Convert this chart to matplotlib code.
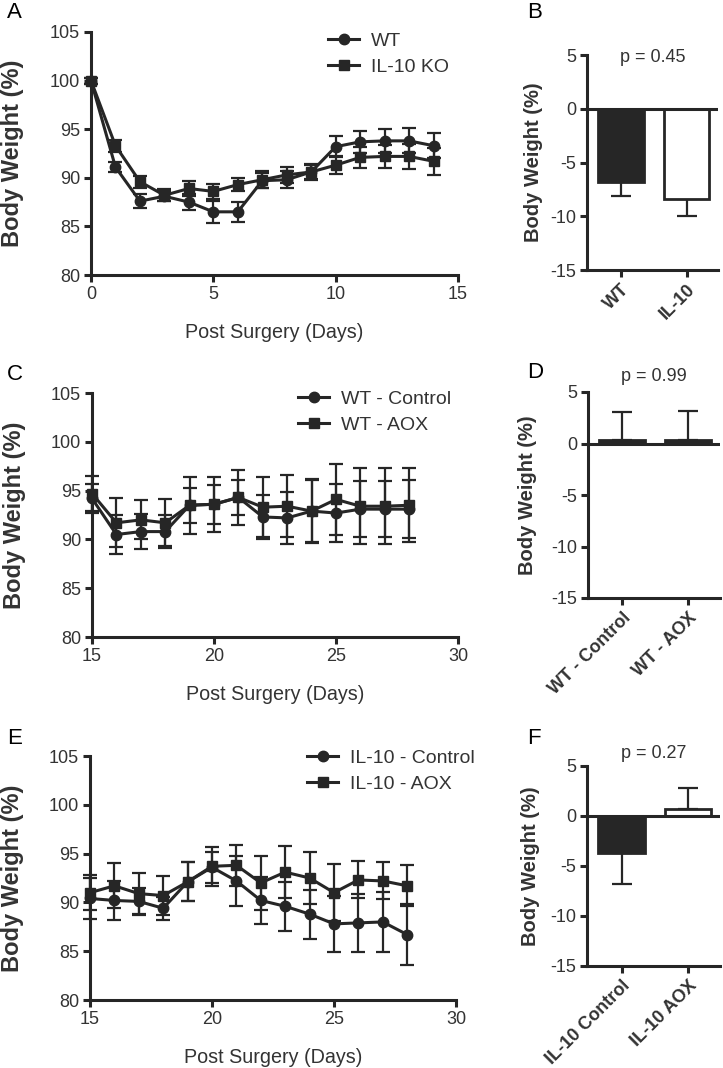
import numpy as np
import matplotlib
matplotlib.use("Agg")
import matplotlib.pyplot as plt
from matplotlib.lines import Line2D

plt.rcParams['font.family'] = ['Liberation Sans', 'DejaVu Sans']
plt.rcParams['axes.unicode_minus'] = False

# ---- data ----
days_a = list(range(0, 15))
wt_mean = [100, 91.1, 87.6, 88.1, 87.5, 86.5, 86.5, 89.7, 89.8, 90.6, 93.2, 93.7, 93.8, 93.8, 93.3]
wt_err = [0.3, 0.5, 0.7, 0.5, 0.8, 1.1, 1.0, 0.8, 0.9, 0.8, 1.1, 1.1, 1.2, 1.3, 1.3]
ko_mean = [100, 93.3, 89.6, 88.2, 88.9, 88.6, 89.3, 89.8, 90.3, 90.6, 91.3, 92.1, 92.2, 92.2, 91.7]
ko_err = [0.3, 0.6, 0.6, 0.6, 0.8, 0.8, 0.7, 0.9, 0.8, 0.7, 0.9, 1.1, 1.2, 1.3, 1.4]

days_c = list(range(15, 29))
wtc_mean = [94.2, 90.5, 90.8, 90.8, 93.5, 93.6, 94.3, 92.3, 92.2, 92.9, 92.7, 93.1, 93.1, 93.1]
wtc_err = [1.5, 2.0, 1.8, 1.7, 1.8, 2.0, 1.8, 2.3, 2.7, 3.2, 3.0, 2.9, 2.9, 3.0]
wta_mean = [94.7, 91.7, 92.0, 91.7, 93.5, 93.6, 94.3, 93.3, 93.4, 92.9, 94.1, 93.4, 93.4, 93.5]
wta_err = [1.8, 2.5, 2.0, 2.4, 2.9, 2.8, 2.8, 3.1, 3.2, 3.3, 3.6, 3.9, 3.9, 3.8]

ilc_mean = [90.4, 90.2, 90.1, 89.4, 92.1, 93.6, 92.2, 90.2, 89.6, 88.8, 87.8, 87.9, 88.0, 86.7]
ilc_err = [2.1, 2.0, 1.4, 1.2, 2.0, 1.6, 2.6, 2.4, 2.5, 2.5, 2.9, 3.0, 3.1, 3.1]
ila_mean = [91.0, 91.7, 90.9, 90.7, 92.1, 93.7, 93.8, 92.0, 93.1, 92.5, 91.0, 92.3, 92.2, 91.7]
ila_err = [1.8, 2.3, 2.1, 2.0, 2.0, 2.0, 2.1, 2.8, 2.7, 2.7, 2.9, 1.9, 1.9, 2.1]

b_labels = ['WT', 'IL-10']
b_vals = [-6.8, -8.4]
b_errs = [1.35, 1.55]
d_labels = ['WT - Control', 'WT - AOX']
d_vals = [0.3, 0.35]
d_errs = [2.8, 2.8]
f_labels = ['IL-10 Control', 'IL-10 AOX']
f_vals = [-3.7, 0.75]
f_errs = [3.1, 2.1]

p_texts = ['p = 0.45', 'p = 0.99', 'p = 0.27']

# ---- styling ----
W, H = 723, 1068
DARK = '#262626'
TXT = '#333333'
SPW = 2.2

fig = plt.figure(figsize=(W / 100, H / 100), dpi=100)


def px_axes(left, top, right, bottom):
    return fig.add_axes([left / W, 1 - bottom / H, (right - left) / W, (bottom - top) / H])


def style(ax):
    for s in ['top', 'right']:
        ax.spines[s].set_visible(False)
    for s in ['left', 'bottom']:
        ax.spines[s].set_linewidth(SPW)
        ax.spines[s].set_color(DARK)
    ax.tick_params(direction='out', length=5, width=SPW, color=DARK,
                   labelsize=13, labelcolor=TXT, pad=3)


def line_panel(ax, x, m1, e1, m2, e2, lab1, lab2, xt, leg_xy):
    ax.errorbar(x, m1, yerr=e1, color=DARK, lw=2.2, marker='o', ms=7.5,
                capsize=5, elinewidth=1.6, capthick=1.6, clip_on=False, zorder=3)
    ax.errorbar(x, m2, yerr=e2, color=DARK, lw=2.2, marker='s', ms=7.5,
                capsize=5, elinewidth=1.6, capthick=1.6, clip_on=False, zorder=3)
    ax.set_xlim(xt[0], xt[-1])
    ax.set_ylim(80, 105)
    ax.set_xticks(xt)
    ax.set_yticks(range(80, 106, 5))
    style(ax)
    ax.set_ylabel('Body Weight (%)', fontsize=17, fontweight='bold', color=TXT, va='center')
    ax.yaxis.set_label_coords(-0.213, 0.5)
    ax.set_xlabel('Post Surgery (Days)', fontsize=14.2, color=TXT, va='center')
    ax.xaxis.set_label_coords(0.5, -0.235)
    h = [Line2D([], [], color=DARK, lw=2.2, marker='o', ms=7.5),
         Line2D([], [], color=DARK, lw=2.2, marker='s', ms=7.5)]
    ax.legend(h, [lab1, lab2], loc='upper left', bbox_to_anchor=(leg_xy[0] / W, 1 - leg_xy[1] / H),
              bbox_transform=fig.transFigure, frameon=False, fontsize=14,
              handlelength=1.6, handletextpad=0.6, labelspacing=0.45,
              borderpad=0, borderaxespad=0, labelcolor=TXT)


def bar_panel(ax, labels, vals, errs, fills, ptxt, p_y, ylab_x):
    x = np.arange(len(vals))
    ax.bar(x, vals, width=0.7, color=fills, edgecolor=DARK, linewidth=2, zorder=2)
    for xi, v, e in zip(x, vals, errs):
        if v < 0:
            yerr = [[e], [0]]
        else:
            yerr = [[0], [e]]
        ax.errorbar([xi], [v], yerr=yerr, fmt='none', ecolor=DARK, elinewidth=1.6,
                    capsize=7, capthick=1.6, zorder=1)
    ax.axhline(0, color=DARK, lw=SPW, zorder=3)
    ax.set_xlim(-0.52, 1.48)
    ax.set_ylim(-15, 5)
    ax.set_yticks(range(-15, 6, 5))
    ax.set_xticks(x)
    ax.set_xticklabels(labels, rotation=45, ha='right', rotation_mode='anchor',
                       fontsize=10.5, fontweight='bold')
    style(ax)
    ax.tick_params(axis='x', pad=3)
    ax.set_ylabel('Body Weight (%)', fontsize=14.5, fontweight='bold', color=TXT, va='center')
    ax.yaxis.set_label_coords(ylab_x, 0.5)
    ax.text(0.5, p_y, ptxt, transform=ax.transAxes, ha='center', va='center',
            fontsize=13, color=TXT)


axA = px_axes(91, 32, 458, 275)
line_panel(axA, days_a, wt_mean, wt_err, ko_mean, ko_err, 'WT', 'IL-10 KO',
           [0, 5, 10, 15], (328, 32))
axC = px_axes(92, 393, 458, 637)
line_panel(axC, days_c, wtc_mean, wtc_err, wta_mean, wta_err, 'WT - Control', 'WT - AOX',
           [15, 20, 25, 30], (298, 390))
axE = px_axes(90, 756, 456, 1000)
line_panel(axE, days_c, ilc_mean, ilc_err, ila_mean, ila_err, 'IL-10 - Control', 'IL-10 - AOX',
           [15, 20, 25, 30], (307, 749))

axB = px_axes(587, 55, 718, 270)
bar_panel(axB, b_labels, b_vals, b_errs, [DARK, 'white'], p_texts[0], 0.99, -0.41)
axD = px_axes(588, 392, 720, 598)
bar_panel(axD, d_labels, d_vals, d_errs, [DARK, DARK], p_texts[1], 1.075, -0.46)
axF = px_axes(587, 766, 720, 966)
bar_panel(axF, f_labels, f_vals, f_errs, [DARK, 'white'], p_texts[2], 1.06, -0.425)

for lab, (x, y) in zip('ABCDEF', [(7, 13), (527, 13), (7, 375), (527, 373), (7, 738), (527, 738)]):
    fig.text(x / W, 1 - y / H, lab, fontsize=16, color='black', ha='left', va='center')

fig.savefig('out.png', dpi=100)
